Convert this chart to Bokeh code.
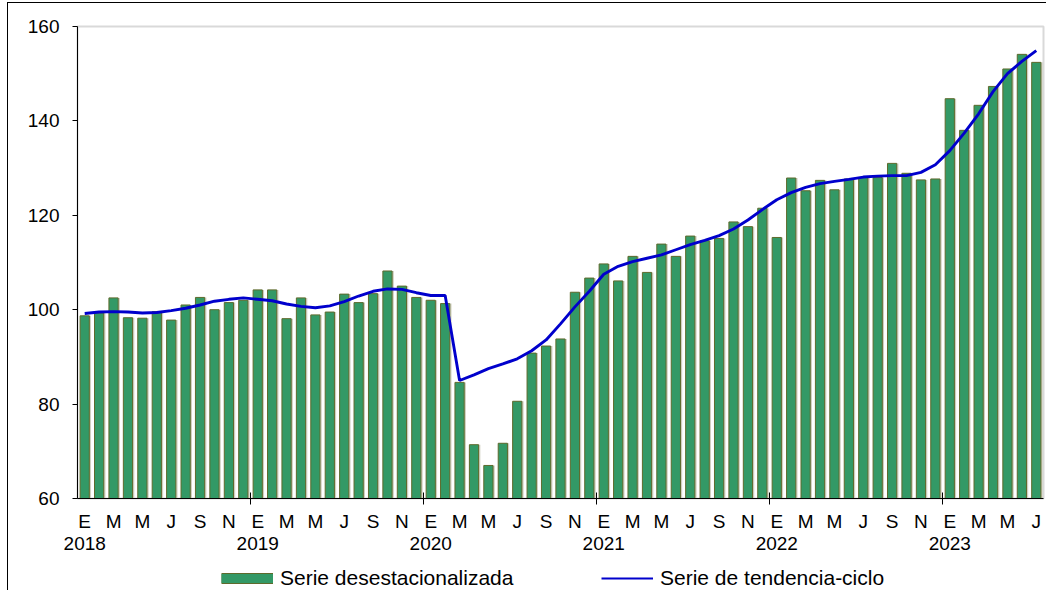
from bokeh.plotting import figure
from bokeh.layouts import column
from bokeh.models import FixedTicker, Range1d, Legend, LegendItem, ColumnDataSource
from bokeh.transform import dodge
from bokeh.embed import file_html
from bokeh.resources import INLINE

# ---- data (Jan 2018 .. Jul 2023) ----
years = ["2018", "2019", "2020", "2021", "2022", "2023"]
month_initials = ["E", "F", "M", "A", "M", "J", "J", "A", "S", "O", "N", "D"]

serie_desestacionalizada = [
    98.7, 99.3, 102.5, 98.3, 98.2, 99.6, 97.8, 101.0, 102.6, 100.0, 101.5, 102.0,
    104.2, 104.2, 98.1, 102.5, 98.9, 99.5, 103.3, 101.5, 103.4, 108.2, 105.0, 102.6,
    102.0, 101.3, 84.6, 71.4, 67.0, 71.7, 80.6, 90.8, 92.3, 93.8, 103.7, 106.7,
    109.7, 106.1, 111.3, 107.9, 113.9, 111.3, 115.6, 114.6, 115.1, 118.6, 117.6, 121.5,
    115.3, 127.9, 125.2, 127.4, 125.4, 127.7, 128.0, 128.0, 131.0, 128.9, 127.5, 127.7,
    144.7, 138.0, 143.3, 147.3, 151.0, 154.1, 152.4,
]

serie_tendencia_ciclo = [
    99.2, 99.5, 99.6, 99.5, 99.3, 99.4, 99.8, 100.3, 101.0, 101.8, 102.2, 102.5,
    102.2, 101.9, 101.2, 100.7, 100.4, 100.8, 101.7, 102.9, 103.9, 104.4, 104.3, 103.6,
    103.0, 103.0, 85.0, 86.2, 87.5, 88.5, 89.6, 91.3, 93.6, 97.0, 100.6, 103.9,
    107.5, 109.2, 110.2, 110.9, 111.6, 112.7, 113.8, 114.7, 115.7, 117.1, 119.0, 121.2,
    123.3, 124.8, 125.9, 126.7, 127.2, 127.6, 128.1, 128.3, 128.4, 128.4, 129.1, 130.7,
    133.7, 137.4, 141.5, 146.2, 150.0, 152.6, 154.9,
]

y_ticks = [60, 80, 100, 120, 140, 160]

# ---- derived ----
n = len(serie_desestacionalizada)
xs = list(range(n))
src = ColumnDataSource(dict(x=xs, desest=serie_desestacionalizada, tend=serie_tendencia_ciclo))

label_ticks = list(range(0, n, 2))
overrides = {}
for i in label_ticks:
    lab = month_initials[i % 12]
    if i % 12 == 0:
        lab = lab + "\n" + years[i // 12]
    overrides[i] = lab
year_bounds = [i - 0.5 for i in range(12, n, 12)]

FONT = "Liberation Sans"
GREEN = "#339966"
OLIVE = "#5e6a2c"
BLUE = "#0000cc"
W = 1046

# ---------------- main chart ----------------
p = figure(width=W, height=557, output_backend="svg", toolbar_location=None,
           x_range=Range1d(-0.5, n - 0.5), y_range=Range1d(y_ticks[0], y_ticks[-1]),
           min_border_left=77, min_border_right=3, min_border_top=26, min_border_bottom=59)
p.styles = {
    "background-color": "white",
    "background-image": "linear-gradient(black, black), linear-gradient(black, black)",
    "background-size": "1px 100%, 100% 1px",
    "background-position": "7px 2px, 7px 2px",
    "background-repeat": "no-repeat",
}
p.xgrid.visible = False
p.ygrid.visible = False
p.outline_line_color = "#d9d9d9"
p.outline_line_width = 2
p.background_fill_color = "white"
p.border_fill_alpha = 0

p.vbar(x=dodge("x", 0.12, range=p.x_range), top="desest", bottom=y_ticks[0],
       width=0.64, source=src, fill_color="#cfcfc0", line_color=None)
p.vbar(x="x", top="desest", bottom=y_ticks[0], width=0.64, source=src,
       fill_color=GREEN, line_color=OLIVE, line_width=1)
p.line(x="x", y="tend", source=src, line_color=BLUE, line_width=2.9)

# x axis
p.xaxis.ticker = FixedTicker(ticks=label_ticks, minor_ticks=year_bounds)
p.xaxis.major_label_overrides = overrides
p.xaxis.major_tick_in = 0
p.xaxis.major_tick_out = 0
p.xaxis.minor_tick_in = 6
p.xaxis.minor_tick_out = 6
p.xaxis.minor_tick_line_color = "black"
p.xaxis.axis_line_color = "black"
p.xaxis.major_label_standoff = 6
p.xaxis.major_label_text_font = FONT
p.xaxis.major_label_text_font_size = "19px"
p.xaxis.major_label_text_line_height = 1.05
p.xaxis.major_label_text_color = "black"
p.xaxis.major_label_orientation = "horizontal"

# y axis
p.yaxis.ticker = FixedTicker(ticks=y_ticks)
p.yaxis.major_tick_in = 0
p.yaxis.major_tick_out = 5
p.yaxis.minor_tick_line_color = None
p.yaxis.axis_line_color = "black"
p.yaxis.major_tick_line_color = "black"
p.yaxis.major_label_standoff = 13
p.yaxis.major_label_text_font = FONT
p.yaxis.major_label_text_font_size = "19px"
p.yaxis.major_label_text_color = "black"

# ---------------- legend strip ----------------
# The series are bound here only so the legend can draw its keys; this strip's
# ranges keep the data itself out of view.
lf = figure(width=W, height=33, output_backend="svg", toolbar_location=None,
            x_range=Range1d(-0.5, n - 0.5), y_range=Range1d(0, 1),
            x_axis_type=None, y_axis_type=None,
            min_border_left=0, min_border_right=0, min_border_top=0, min_border_bottom=0)
lf.styles = {
    "background-color": "white",
    "background-image": "linear-gradient(black, black)",
    "background-size": "1px 100%",
    "background-position": "7px 0px",
    "background-repeat": "no-repeat",
}
lf.grid.visible = False
lf.outline_line_color = None
lf.background_fill_alpha = 0
lf.border_fill_alpha = 0

sw_edge = lf.line(x="x", y="desest", source=src, line_color=OLIVE, line_width=11, line_cap="butt")
sw_fill = lf.line(x="x", y="desest", source=src, line_color=GREEN, line_width=9, line_cap="butt")
sw_line = lf.line(x="x", y="tend", source=src, line_color=BLUE, line_width=2.2, line_cap="butt")

legend = Legend(
    items=[LegendItem(label="Serie desestacionalizada", renderers=[sw_edge, sw_fill]),
           LegendItem(label="Serie de tendencia-ciclo", renderers=[sw_line])],
    location=(144, 0), orientation="horizontal",
    glyph_width=52, glyph_height=14, label_standoff=7, label_width=321,
    padding=0, margin=0, spacing=0,
    border_line_color=None, background_fill_alpha=0,
    label_text_font=FONT, label_text_font_size="21px", label_text_color="black",
    label_height=20,
)
lf.add_layout(legend, "center")

layout = column(p, lf, spacing=0)
open("out.html", "w").write(file_html(layout, INLINE))
